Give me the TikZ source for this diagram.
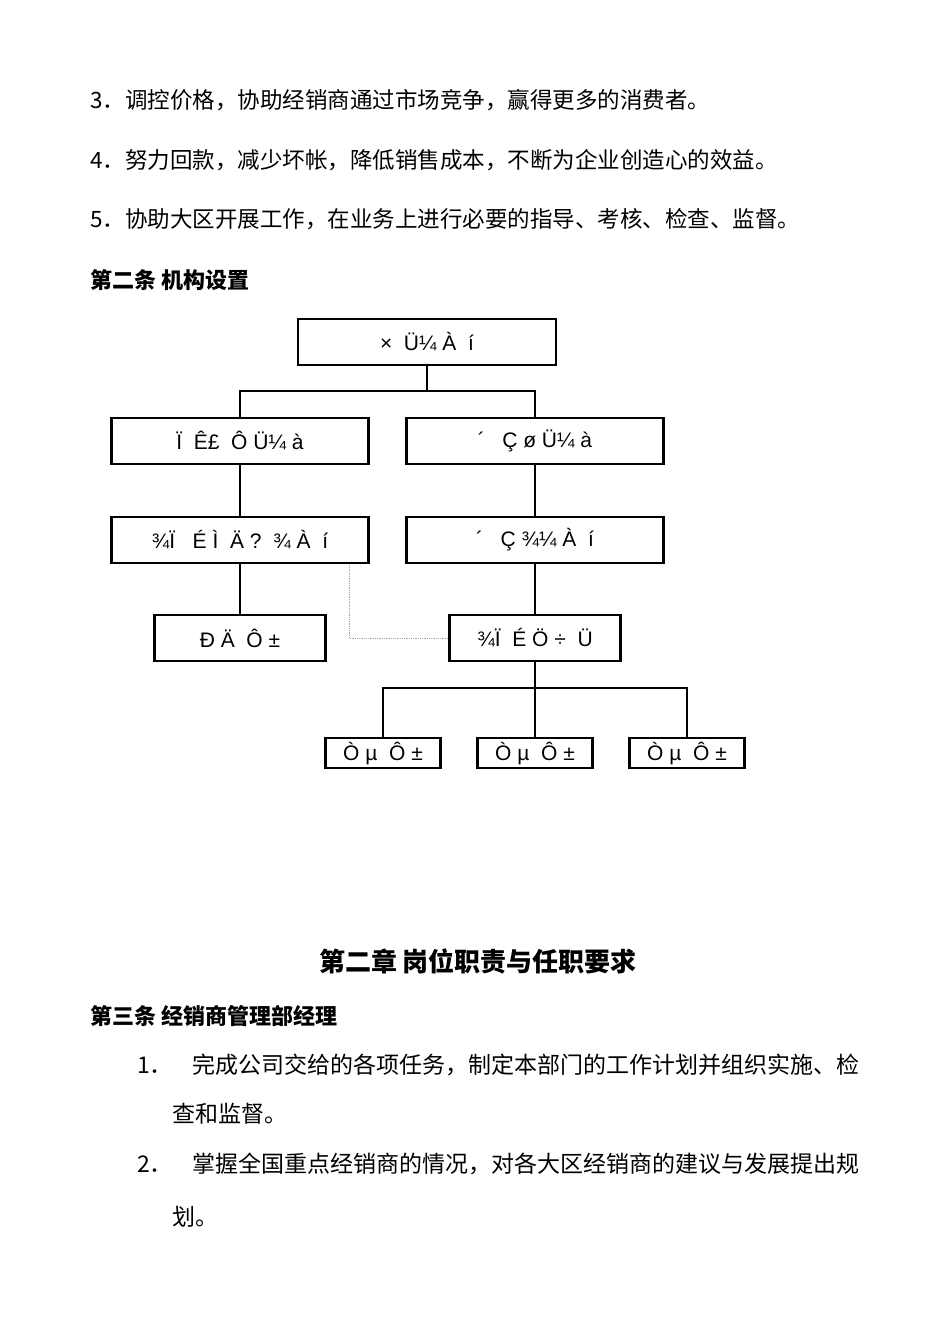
\documentclass[tikz,border=0pt]{standalone}
\usepackage{fontspec}
\setmainfont{Liberation Sans}
\newfontfamily\cjk{Noto Sans CJK SC}
\begin{document}
\begin{tikzpicture}[x=1pt,y=-1pt,
  bx/.style={draw,line width=2.8pt,minimum height=46pt,inner sep=0pt,font=\fontsize{21}{22}\selectfont},
  sb/.style={draw,line width=2.8pt,minimum height=30pt,inner sep=0pt,font=\fontsize{21}{22}\selectfont},
  ln/.style={line width=2.8pt},
  tx/.style={anchor=west,inner sep=0pt,font=\cjk\fontsize{22.5}{24}\selectfont},
  ti/.style={anchor=west,inner sep=0pt,font=\cjk\fontsize{23}{24}\selectfont},
  hd/.style={anchor=west,inner sep=0pt,font=\cjk\bfseries\fontsize{22}{24}\selectfont}]
\useasboundingbox (0,0) rectangle (950,1344);
\node[tx] (t3) at (90,100) {3．调控价格，协助经销商通过市场竞争，赢得更多的消费者。};
\node[tx] (t4) at (90,160) {4．努力回款，减少坏帐，降低销售成本，不断为企业创造心的效益。};
\node[tx] (t5) at (90,219) {5．协助大区开展工作，在业务上进行必要的指导、考核、检查、监督。};
\node[hd] (h2) at (90,280) {第二条\ 机构设置};
\node[bx,minimum width=258pt] (top) at (427,342) {×\ \ Ü¼\ À\ \ í};
\node[bx,minimum width=257pt] (l1) at (240,441) {Ï\ \ Ê£\ \ Ô\ Ü¼\ à};
\node[bx,minimum width=257pt] (r1) at (535,441) {´\ \ \ Ç\ ø\ Ü¼\ à};
\node[bx,minimum width=257pt] (l2) at (240,540) {¾Ï\ \ \ É\ Ì\ \ Ä\ ?\ \ ¾\ À\ \ í};
\node[bx,minimum width=257pt] (r2) at (535,540) {´\ \ \ Ç\ ¾¼\ À\ \ í};
\node[bx,minimum width=171pt] (l3) at (240,638) {Ð\ Ä\ \ Ô\ ±};
\node[bx,minimum width=171pt] (r3) at (535,638) {¾Ï\ \ É\ Ö\ ÷\ \ Ü};
\node[sb,minimum width=115pt] (b1) at (383,753) {Ò\ µ\ \ Ô\ ±};
\node[sb,minimum width=115pt] (b2) at (535,753) {Ò\ µ\ \ Ô\ ±};
\node[sb,minimum width=115pt] (b3) at (687,753) {Ò\ µ\ \ Ô\ ±};
\coordinate (j1) at (427,391);
\coordinate (j2) at (535,688);
\draw[ln] (top.south) -- (j1);
\draw[ln] (l1.north) |- (j1) -| (r1.north);
\draw[ln] (l1) -- (l2);
\draw[ln] (r1) -- (r2);
\draw[ln] (l2) -- (l3);
\draw[ln] (r2) -- (r3);
\draw[ln] (r3.south) -- (j2);
\draw[ln] (b1.north) |- (j2) -| (b3.north);
\draw[ln] (j2) -- (b2.north);
\coordinate (d1) at (349,565);
\draw[gray!70,densely dotted,line width=0.8pt] (d1) |- (r3.west);
\node[font=\cjk\bfseries\fontsize{26}{28}\selectfont] (ch) at (478,961) {第二章\ 岗位职责与任职要求};
\node[hd] (h3) at (90,1016) {第三条\ 经销商管理部经理};
\node[ti] (n1) at (137,1065) {1．};
\node[ti] (i1) at (192,1065) {完成公司交给的各项任务，制定本部门的工作计划并组织实施、检};
\node[ti] (i1b) at (172,1114) {查和监督。};
\node[ti] (n2) at (137,1164) {2．};
\node[ti] (i2) at (192,1164) {掌握全国重点经销商的情况，对各大区经销商的建议与发展提出规};
\node[ti] (i2b) at (172,1217) {划。};
\end{tikzpicture}
\end{document}
